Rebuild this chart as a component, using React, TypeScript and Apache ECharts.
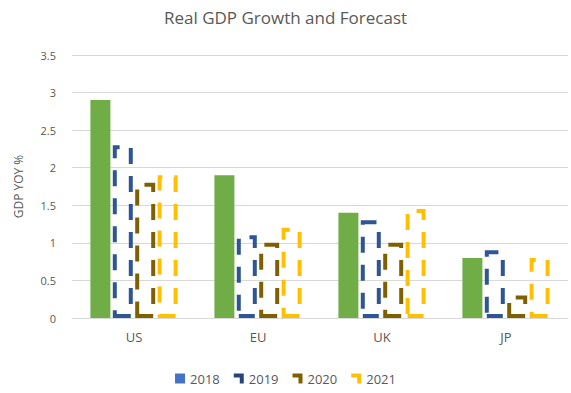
import React, { useEffect, useRef } from "react";
import * as echarts from "echarts";

const categories = ["US", "EU", "UK", "JP"];
const years = ["2018", "2019", "2020", "2021"];
const gdp2018 = [2.9, 1.9, 1.4, 0.8];
const gdp2019 = [2.3, 1.1, 1.3, 0.9];
const gdp2020 = [1.8, 1.0, 1.0, 0.3];
const gdp2021 = [1.9, 1.2, 1.45, 0.8];
const yTicks = ["0", "0.5", "1", "1.5", "2", "2.5", "3", "3.5"];

const FONT = "'Open Sans', 'Noto Sans', sans-serif";
const cornerIcon = "path://M0,0 L10,0 L10,10 L6,10 L6,4 L0,4 Z";

export default function App() {
  const ref = useRef<HTMLDivElement>(null);
  useEffect(() => {
    if (!ref.current) return;
    const chart = echarts.init(ref.current, null, { renderer: "svg" });
    const dashed = (name: string, data: number[], color: string) => ({
      name,
      type: "bar",
      data,
      barWidth: 20,
      barGap: "12%",
      itemStyle: {
        color: "rgba(255,255,255,0)",
        borderColor: color,
        borderWidth: 4,
        borderType: [16, 12],
      },
    });
    chart.setOption({
      animation: false,
      backgroundColor: "#ffffff",
      title: {
        text: "Real GDP Growth and Forecast",
        left: "center",
        top: 4,
        textStyle: { fontFamily: FONT, fontSize: 17, fontWeight: "normal", color: "#595959" },
      },
      legend: {
        bottom: 3,
        left: "center",
        itemWidth: 10,
        itemHeight: 10,
        itemGap: 14,
        textStyle: { fontFamily: FONT, fontSize: 13, color: "#595959" },
        data: [
          { name: years[0], icon: "rect", itemStyle: { color: "#4472C4", borderWidth: 0 } },
          { name: years[1], icon: cornerIcon, itemStyle: { color: "#264478", borderWidth: 0 } },
          { name: years[2], icon: cornerIcon, itemStyle: { color: "#7F6000", borderWidth: 0 } },
          { name: years[3], icon: cornerIcon, itemStyle: { color: "#FFC000", borderWidth: 0 } },
        ],
      },
      grid: { left: 72, right: 3, top: 55, bottom: 75 },
      xAxis: {
        type: "category",
        data: categories,
        axisTick: { show: false },
        axisLine: { lineStyle: { color: "#d9d9d9" } },
        axisLabel: { fontFamily: FONT, fontSize: 13, color: "#595959", margin: 12 },
      },
      yAxis: {
        type: "value",
        min: 0,
        max: 3.5,
        interval: 0.5,
        name: "GDP YOY %",
        nameLocation: "middle",
        nameGap: 48,
        nameRotate: 90,
        nameTextStyle: { fontFamily: FONT, fontSize: 12, color: "#595959" },
        axisLabel: {
          fontFamily: FONT,
          fontSize: 11,
          color: "#595959",
          margin: 16,
          formatter: (v: number) => yTicks[Math.round(v / 0.5)] ?? String(v),
        },
        splitLine: { lineStyle: { color: "#d9d9d9" } },
      },
      series: [
        {
          name: years[0],
          type: "bar",
          data: gdp2018,
          barWidth: 20,
          barGap: "12%",
          itemStyle: { color: "#70AD47" },
        },
        dashed(years[1], gdp2019, "#2F5597"),
        dashed(years[2], gdp2020, "#7F6000"),
        dashed(years[3], gdp2021, "#FFC000"),
      ],
    });
    return () => chart.dispose();
  }, []);
  return (
    <div
      ref={ref}
      style={{ position: "fixed", left: 0, top: 0, width: 571, height: 393 }}
    />
  );
}
